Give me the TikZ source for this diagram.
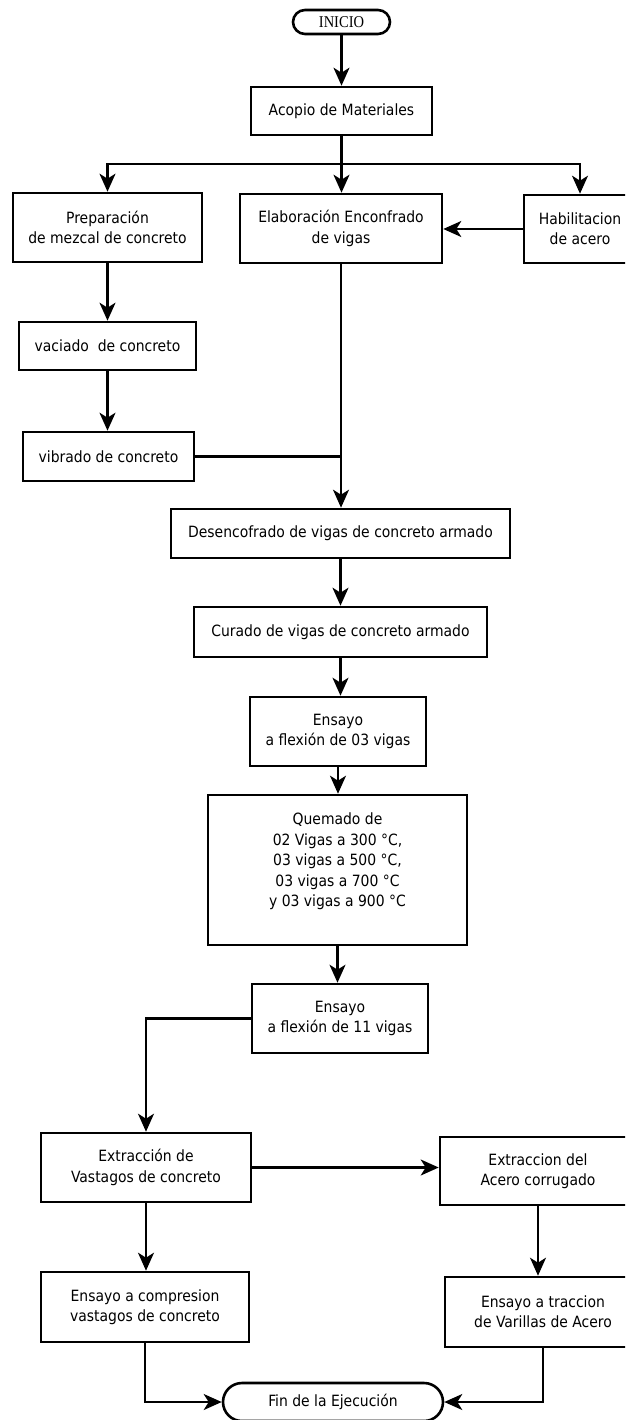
\documentclass[tikz,border=0pt]{standalone}
\usepackage{fontspec}
\usepackage{graphicx}
\setmainfont{DejaVu Sans Condensed}
\newfontfamily\inifont{Liberation Serif}
\usetikzlibrary{arrows.meta,shapes.misc}
\begin{document}
\begin{tikzpicture}[x=1pt,y=-1pt,
  box/.style={draw,line width=2.6pt,align=center,inner sep=0pt,font=\fontsize{15.5}{20.4}\selectfont},
  term/.style={box,rounded rectangle},
  arr/.style={line width=2.2pt,-{Stealth[length=18pt,width=16pt,inset=5pt]}},
  ln/.style={line width=2.2pt}]
\useasboundingbox (0,0) rectangle (625,1420);
\clip (0,0) rectangle (625,1420);
\node[term,minimum width=97pt,minimum height=24pt,font=\inifont\fontsize{16.5}{18}\selectfont] (ini) at (341.5,22) {\scalebox{0.88}[1]{INICIO}};
\node[box,minimum width=181pt,minimum height=48pt] (acopio) at (341.5,111) {Acopio de Materiales};
\node[box,minimum width=189pt,minimum height=69pt] (prep) at (107.5,227.5) {Preparación\\de mezcal de concreto};
\node[box,minimum width=202pt,minimum height=69pt] (elab) at (341,228.5) {Elaboración Enconfrado\\de vigas};
\node[box,minimum width=112pt,minimum height=68pt] (habil) at (580,229) {Habilitacion\\de acero};
\node[box,minimum width=177pt,minimum height=48pt] (vac) at (107.5,346) {vaciado\ \ de concreto};
\node[box,minimum width=171pt,minimum height=49pt] (vib) at (108.5,456.5) {vibrado de concreto};
\node[box,minimum width=339pt,minimum height=49pt] (desenc) at (340.5,533.5) {Desencofrado de vigas de concreto armado};
\node[box,minimum width=293pt,minimum height=50pt] (curado) at (340.5,632) {Curado de vigas de concreto armado};
\node[box,minimum width=176pt,minimum height=69pt] (ens03) at (338,731.5) {Ensayo\\a flexión de 03 vigas};
\node[box,minimum width=259pt,minimum height=150pt] (quem) at (337.5,870) {Quemado de\\02 Vigas a 300 °C,\\03 vigas a 500 °C,\\03 vigas a 700 °C\\y 03 vigas a 900 °C\\~};
\node[box,minimum width=176pt,minimum height=69pt] (ens11) at (340,1018.5) {Ensayo\\a flexión de 11 vigas};
\node[box,minimum width=210pt,minimum height=69pt] (extr) at (146,1167.5) {Extracción de\\Vastagos de concreto};
\node[box,minimum width=196pt,minimum height=68pt] (extrdel) at (538,1171) {Extraccion del\\Acero corrugado};
\node[box,minimum width=208pt,minimum height=70pt] (compr) at (145,1307) {Ensayo a compresion\\vastagos de concreto};
\node[box,minimum width=196pt,minimum height=70pt] (tracc) at (543,1312) {Ensayo a traccion\\de Varillas de Acero};
\node[term,minimum width=220pt,minimum height=38pt] (fin) at (333,1402) {Fin de la Ejecución};

\draw[arr] (ini.south) -- (ini.south |- acopio.north);
\draw[ln] (acopio.south) -- ++(0,28) coordinate (br);
\draw[arr] (br) -| (prep.north);
\draw[arr] (br) -| (habil.north);
\draw[arr] (acopio.south) -- (acopio.south |- elab.north);
\draw[arr] (habil.west) -- (habil.west -| elab.east);
\draw[arr] (prep.south) -- (prep.south |- vac.north);
\draw[arr] (vac.south) -- (vac.south |- vib.north);
\draw[ln] (vib.east) -- (vib.east -| elab.south);
\draw[arr] (elab.south) -- (elab.south |- desenc.north);
\draw[arr] (desenc.south) -- (desenc.south |- curado.north);
\draw[arr] (curado.south) -- (curado.south |- ens03.north);
\draw[arr] (ens03.south) -- (ens03.south |- quem.north);
\draw[arr] (quem.south) -- (quem.south |- ens11.north);
\draw[arr] (ens11.west) -| (extr.north);
\draw[arr] (extr.east) -- (extr.east -| extrdel.west);
\draw[arr] (extr.south) -- (extr.south |- compr.north);
\draw[arr] (extrdel.south) -- (extrdel.south |- tracc.north);
\draw[arr] (compr.south) |- (fin.west);
\draw[arr] (tracc.south) |- (fin.east);
\end{tikzpicture}
\end{document}
